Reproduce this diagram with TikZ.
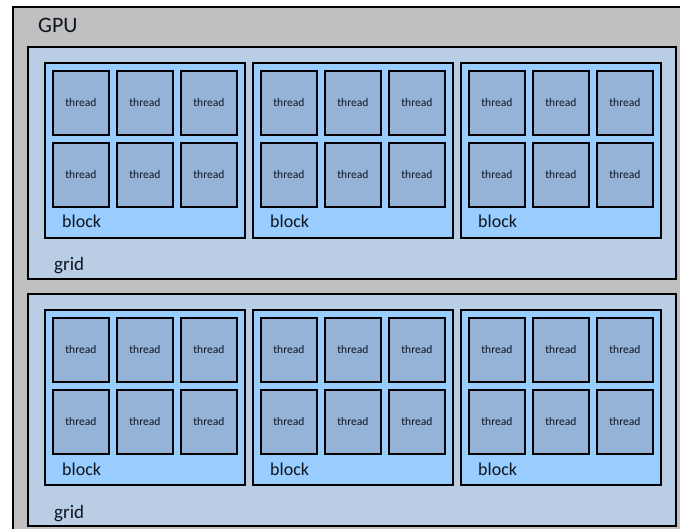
\documentclass[tikz,border=0pt]{standalone}
\usepackage{fontspec}
\setmainfont{Carlito}
\definecolor{gpugray}{HTML}{C0C0C0}
\definecolor{gridblue}{HTML}{B9CDE5}
\definecolor{blockblue}{HTML}{99CCFF}
\definecolor{threadblue}{HTML}{95B3D7}
\definecolor{textdark}{HTML}{0E1420}
\tikzset{box/.style = {draw, rectangle, line width = 1.8pt, inner sep = 0, anchor = north west},
  gridbox/.style = {box, fill = gridblue, minimum width = 648, minimum height = 232},
  blockbox/.style = {box, fill = blockblue, minimum width = 200, minimum height = 175},
  threadbox/.style = {box, fill = threadblue, minimum width = 56, minimum height = 64,
    text = textdark, font = \fontsize{11.5}{13}\selectfont},
  lbl/.style = {anchor = base west, inner sep = 0, text = textdark}}

\begin{document}
\begin{tikzpicture}[x = 1pt, y = -1pt]
    \useasboundingbox (0, 0) rectangle (680, 529);
    \clip (0, 0) rectangle (680, 529);
    \node [box, fill = gpugray, line width = 2.2pt, minimum width = 700, minimum height = 550] (gpu) at (12, 6) {};
    \node [lbl, font = \fontsize{22}{26}\selectfont] (gpulabel) at (38, 33) {GPU};

    \foreach \g/\gy in {1/46, 2/293} {
        \node [gridbox] (grid\g) at (27, \gy) {};
        \node [lbl, font = \fontsize{19}{23}\selectfont] (gridlabel\g) at (54, \gy + 225) {grid};
        \foreach \b in {0, 1, 2} {
            \node [blockbox] (block\g\b) at (44 + 208*\b, \gy + 16) {};
            \node [lbl, font = \fontsize{18}{22}\selectfont] (blocklabel\g\b) at (62 + 208*\b, \gy + 182) {block};
            \foreach \r in {0, 1}
                \foreach \c in {0, 1, 2}
                    \node [threadbox] (thread\g\b\r\c) at (52 + 208*\b + 64*\c, \gy + 24 + 72*\r) {thread};
        }
    }
\end{tikzpicture}
\end{document}
